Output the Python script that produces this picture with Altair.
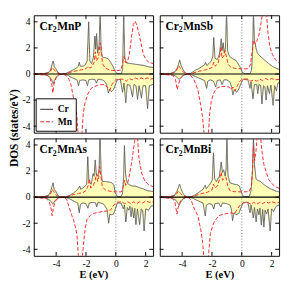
import altair as alt
import pandas as pd

# ---------------- data (E in eV, DOS in states/eV) ----------------
CR2MNP_CR_UP = [(-5.5,0.02),(-4.8,0.04),(-4.5,0.12),(-4.38,0.3),(-4.28,0.7),(-4.2,1.0),(-4.12,0.55),(-4.02,0.4),(-3.9,0.15),(-3.75,0.03),(-3.4,0.02),(-3.25,0.1),(-3.05,0.2),(-2.85,0.32),(-2.65,0.45),(-2.52,0.6),(-2.45,0.9),(-2.38,0.6),(-2.2,0.6),(-2.05,0.7),(-1.92,1.0),(-1.82,4.0),(-1.74,1.0),(-1.62,0.8),(-1.5,1.3),(-1.4,2.9),(-1.35,1.9),(-1.29,3.1),(-1.22,1.6),(-1.12,2.2),(-1.05,4.7),(-0.98,1.7),(-0.9,1.3),(-0.7,1.25),(-0.5,1.15),(-0.35,0.9),(-0.2,0.6),(-0.05,0.2),(0.1,0.04),(0.38,0.04),(0.46,0.4),(0.53,4.7),(0.6,1.3),(0.7,0.85),(1.0,0.8),(1.3,0.75),(1.6,0.7),(1.9,0.65),(2.2,0.55),(2.5,0.5)]
CR2MNP_CR_DN = [(-5.5,-0.02),(-4.7,-0.06),(-4.45,-0.2),(-4.3,-0.45),(-4.2,-0.75),(-4.12,-0.5),(-3.98,-0.2),(-3.8,-0.05),(-3.4,-0.02),(-3.2,-0.1),(-3.0,-0.25),(-2.8,-0.35),(-2.6,-0.45),(-2.5,-0.9),(-2.42,-0.5),(-2.2,-0.45),(-2.0,-0.5),(-1.9,-0.9),(-1.82,-0.45),(-1.6,-0.4),(-1.4,-0.42),(-1.3,-0.7),(-1.2,-0.4),(-1.0,-0.42),(-0.8,-0.5),(-0.62,-0.8),(-0.5,-1.45),(-0.42,-1.2),(-0.3,-1.35),(-0.15,-1.2),(-0.02,-0.8),(0.1,-0.45),(0.3,-0.4),(0.45,-1.4),(0.55,-0.7),(0.67,-2.2),(0.77,-0.8),(0.95,-0.85),(1.12,-1.75),(1.22,-0.8),(1.35,-0.9),(1.46,-1.95),(1.56,-0.9),(1.72,-1.85),(1.82,-0.9),(2.0,-0.9),(2.13,-2.65),(2.25,-0.9),(2.5,-0.8)]
CR2MNP_MN_UP = [(-5.5,0.02),(-4.6,0.05),(-4.38,0.2),(-4.25,0.5),(-4.15,0.35),(-4.0,0.15),(-3.8,0.03),(-3.45,0.01),(-3.25,0.06),(-3.0,0.15),(-2.6,0.25),(-2.3,0.32),(-2.0,0.4),(-1.85,0.6),(-1.75,0.45),(-1.6,0.55),(-1.45,0.9),(-1.37,1.7),(-1.3,1.0),(-1.15,1.3),(-1.05,2.4),(-0.97,1.9),(-0.9,0.8),(-0.7,0.45),(-0.4,0.3),(0.0,0.25),(0.35,0.3),(0.47,0.9),(0.55,1.35),(0.63,0.9),(0.78,0.9),(0.92,1.6),(1.05,2.8),(1.18,3.8),(1.3,4.05),(1.42,3.7),(1.55,3.1),(1.7,2.3),(1.85,1.5),(2.0,1.15),(2.2,0.9),(2.5,0.8)]
CR2MNP_MN_DN = [(-5.5,-0.02),(-4.6,-0.08),(-4.4,-0.35),(-4.28,-0.9),(-4.22,-1.45),(-4.15,-0.8),(-4.0,-0.3),(-3.8,-0.05),(-3.5,-0.02),(-3.3,-0.15),(-3.15,-0.4),(-3.0,-0.85),(-2.86,-1.7),(-2.72,-2.4),(-2.62,-3.1),(-2.52,-4.7),(-2.28,-4.7),(-2.18,-3.0),(-2.08,-2.3),(-1.9,-1.6),(-1.75,-1.25),(-1.6,-1.05),(-1.2,-0.85),(-0.8,-0.8),(-0.56,-1.0),(-0.4,-1.25),(-0.25,-0.8),(-0.1,-0.55),(0.0,-0.45),(0.3,-0.4),(0.5,-0.4),(0.7,-0.55),(0.9,-0.35),(1.1,-0.45),(1.3,-0.3),(1.5,-0.4),(1.7,-0.3),(1.9,-0.4),(2.1,-0.3),(2.3,-0.4),(2.5,-0.35)]

CR2MNSB_CR_UP = [(-5.5,0.02),(-4.8,0.04),(-4.5,0.15),(-4.35,0.4),(-4.25,0.7),(-4.17,1.08),(-4.08,0.7),(-3.95,0.35),(-3.8,0.1),(-3.65,0.02),(-3.45,0.03),(-3.3,0.15),(-3.1,0.3),(-2.9,0.4),(-2.7,0.55),(-2.5,0.7),(-2.43,0.9),(-2.35,0.65),(-2.2,0.8),(-2.05,1.0),(-1.95,1.3),(-1.88,2.8),(-1.8,1.2),(-1.65,1.1),(-1.5,1.5),(-1.38,2.7),(-1.32,1.8),(-1.25,2.4),(-1.18,1.6),(-1.1,2.0),(-1.02,4.7),(-0.95,1.8),(-0.85,1.4),(-0.6,1.15),(-0.4,1.05),(-0.25,0.8),(-0.1,0.5),(0.05,0.1),(0.2,0.03),(0.55,0.03),(0.65,0.3),(0.72,1.5),(0.78,4.7),(0.85,2.6),(0.95,2.0),(1.05,1.6),(1.2,1.4),(1.3,1.3),(1.5,1.1),(1.8,0.8),(2.1,0.55),(2.5,0.35)]
CR2MNSB_CR_DN = [(-5.5,-0.02),(-4.7,-0.05),(-4.45,-0.15),(-4.3,-0.3),(-4.2,-0.42),(-4.1,-0.3),(-3.95,-0.12),(-3.75,-0.03),(-3.45,-0.02),(-3.3,-0.1),(-3.1,-0.2),(-2.9,-0.3),(-2.7,-0.4),(-2.5,-0.5),(-2.36,-1.1),(-2.28,-0.55),(-2.1,-0.45),(-1.9,-0.55),(-1.75,-1.0),(-1.65,-0.5),(-1.45,-0.45),(-1.32,-0.8),(-1.2,-0.45),(-1.0,-0.45),(-0.8,-0.6),(-0.68,-1.0),(-0.6,-1.6),(-0.5,-1.2),(-0.35,-1.4),(-0.2,-1.15),(-0.05,-0.7),(0.1,-0.4),(0.4,-0.38),(0.55,-1.1),(0.62,-0.6),(0.75,-1.9),(0.85,-0.8),(1.0,-0.8),(1.07,-1.5),(1.15,-0.8),(1.27,-0.9),(1.35,-2.3),(1.45,-0.9),(1.55,-1.0),(1.63,-2.0),(1.72,-0.9),(1.85,-1.5),(1.95,-0.85),(2.1,-2.4),(2.2,-0.9),(2.32,-1.3),(2.42,-0.7),(2.5,-0.65)]
CR2MNSB_MN_UP = [(-5.5,0.02),(-4.6,0.06),(-4.4,0.25),(-4.22,0.62),(-4.1,0.4),(-3.9,0.12),(-3.7,0.02),(-3.45,0.02),(-3.2,0.1),(-2.9,0.2),(-2.6,0.28),(-2.3,0.35),(-2.0,0.5),(-1.88,0.9),(-1.78,0.6),(-1.6,0.8),(-1.46,1.5),(-1.4,2.1),(-1.33,1.2),(-1.2,1.4),(-1.12,1.8),(-1.03,1.3),(-0.9,0.7),(-0.7,0.5),(-0.4,0.42),(0.0,0.4),(0.4,0.4),(0.58,0.7),(0.7,1.8),(0.78,2.6),(0.88,2.3),(1.0,2.5),(1.15,3.0),(1.3,4.0),(1.4,4.7),(1.65,4.7),(1.75,3.2),(1.88,2.1),(2.05,1.5),(2.25,1.1),(2.5,0.85)]
CR2MNSB_MN_DN = [(-5.5,-0.02),(-4.65,-0.1),(-4.45,-0.4),(-4.33,-1.2),(-4.25,-0.8),(-4.1,-0.3),(-3.9,-0.08),(-3.65,-0.02),(-3.4,-0.15),(-3.2,-0.45),(-2.95,-1.2),(-2.75,-2.4),(-2.62,-3.4),(-2.52,-4.7),(-2.25,-4.7),(-2.15,-3.0),(-2.05,-2.1),(-1.9,-1.5),(-1.7,-1.1),(-1.4,-0.95),(-1.1,-0.95),(-0.85,-1.0),(-0.72,-1.2),(-0.6,-1.0),(-0.45,-1.3),(-0.3,-0.9),(-0.1,-0.5),(0.1,-0.4),(0.4,-0.45),(0.6,-0.55),(0.8,-0.45),(1.0,-0.55),(1.2,-0.4),(1.4,-0.5),(1.6,-0.35),(1.8,-0.45),(2.0,-0.35),(2.25,-0.45),(2.5,-0.4)]

CR2MNAS_CR_UP = [(-5.5,0.02),(-4.8,0.04),(-4.5,0.15),(-4.38,0.4),(-4.28,0.8),(-4.21,1.1),(-4.13,0.6),(-4.03,0.45),(-3.9,0.15),(-3.75,0.02),(-3.35,0.02),(-3.2,0.08),(-3.05,0.15),(-2.85,0.3),(-2.65,0.5),(-2.55,0.6),(-2.42,0.85),(-2.35,0.6),(-2.2,0.7),(-2.1,0.8),(-1.95,1.0),(-1.88,3.1),(-1.8,1.2),(-1.65,1.0),(-1.52,1.8),(-1.45,1.6),(-1.38,2.85),(-1.31,1.8),(-1.2,1.6),(-1.12,2.2),(-1.06,4.7),(-0.98,1.8),(-0.9,1.2),(-0.7,1.2),(-0.45,1.15),(-0.25,1.1),(-0.12,0.9),(-0.04,0.35),(0.1,0.04),(0.35,0.04),(0.45,0.3),(0.52,1.5),(0.58,3.95),(0.65,1.8),(0.75,1.1),(0.9,0.95),(1.1,0.85),(1.3,0.85),(1.52,0.75),(1.8,0.65),(2.1,0.5),(2.5,0.43)]
CR2MNAS_CR_DN = [(-5.5,-0.02),(-4.7,-0.05),(-4.45,-0.2),(-4.3,-0.4),(-4.22,-0.55),(-4.12,-0.35),(-3.95,-0.12),(-3.75,-0.02),(-3.35,-0.02),(-3.15,-0.1),(-2.95,-0.22),(-2.75,-0.35),(-2.55,-0.45),(-2.45,-1.2),(-2.37,-0.55),(-2.2,-0.45),(-2.0,-0.5),(-1.87,-0.85),(-1.78,-0.45),(-1.55,-0.4),(-1.35,-0.45),(-1.28,-0.75),(-1.2,-0.42),(-1.0,-0.45),(-0.8,-0.55),(-0.6,-0.9),(-0.48,-2.0),(-0.4,-1.3),(-0.3,-1.35),(-0.15,-1.3),(-0.03,-0.9),(0.1,-0.45),(0.35,-0.45),(0.5,-0.9),(0.58,-0.6),(0.67,-1.9),(0.77,-0.8),(0.87,-1.0),(0.95,-0.7),(1.02,-1.5),(1.1,-0.8),(1.2,-1.6),(1.27,-0.85),(1.35,-2.1),(1.45,-0.9),(1.6,-2.1),(1.7,-0.9),(1.8,-1.0),(1.9,-2.6),(2.0,-0.9),(2.2,-1.0),(2.35,-0.7),(2.5,-0.65)]
CR2MNAS_MN_UP = [(-5.5,0.02),(-4.6,0.05),(-4.4,0.2),(-4.25,0.6),(-4.12,0.35),(-3.95,0.1),(-3.75,0.02),(-3.35,0.02),(-3.1,0.1),(-2.8,0.2),(-2.5,0.28),(-2.2,0.35),(-2.0,0.5),(-1.85,0.9),(-1.77,1.4),(-1.68,0.7),(-1.5,0.9),(-1.38,1.3),(-1.3,1.8),(-1.22,1.2),(-1.15,1.5),(-1.08,2.35),(-1.0,1.6),(-0.9,0.8),(-0.7,0.55),(-0.4,0.45),(0.0,0.4),(0.38,0.4),(0.5,0.8),(0.58,1.3),(0.66,0.9),(0.8,1.1),(0.95,1.9),(1.1,2.95),(1.25,4.2),(1.33,4.7),(1.45,4.7),(1.55,3.0),(1.73,1.85),(1.94,1.25),(2.2,0.95),(2.5,0.8)]
CR2MNAS_MN_DN = [(-5.5,-0.02),(-4.65,-0.1),(-4.45,-0.4),(-4.32,-1.0),(-4.27,-1.42),(-4.18,-0.8),(-4.05,-0.3),(-3.85,-0.05),(-3.5,-0.02),(-3.3,-0.15),(-3.15,-0.7),(-2.95,-1.4),(-2.83,-1.77),(-2.68,-2.4),(-2.6,-2.95),(-2.5,-4.7),(-2.25,-4.7),(-2.15,-3.4),(-2.05,-2.4),(-1.92,-1.65),(-1.7,-1.4),(-1.5,-1.25),(-1.2,-1.18),(-0.9,-1.1),(-0.6,-1.06),(-0.45,-1.1),(-0.3,-0.9),(-0.1,-0.55),(0.1,-0.4),(0.35,-0.35),(0.6,-0.5),(0.8,-0.35),(1.0,-0.5),(1.2,-0.35),(1.4,-0.5),(1.6,-0.35),(1.8,-0.45),(2.0,-0.3),(2.25,-0.4),(2.5,-0.35)]

CR2MNBI_CR_UP = [(-5.5,0.02),(-4.8,0.05),(-4.5,0.15),(-4.35,0.45),(-4.25,0.75),(-4.17,1.0),(-4.08,0.65),(-3.95,0.3),(-3.8,0.08),(-3.6,0.02),(-3.4,0.03),(-3.25,0.1),(-3.1,0.2),(-2.9,0.35),(-2.75,0.48),(-2.6,0.6),(-2.45,0.9),(-2.38,0.65),(-2.2,0.9),(-2.08,1.1),(-1.98,1.3),(-1.9,3.4),(-1.82,1.4),(-1.7,1.2),(-1.5,1.6),(-1.38,2.7),(-1.3,1.9),(-1.22,2.1),(-1.12,1.6),(-1.05,2.2),(-1.0,4.7),(-0.93,1.7),(-0.8,1.1),(-0.55,1.0),(-0.3,0.95),(-0.15,0.85),(-0.05,0.4),(0.1,0.05),(0.5,0.05),(0.62,0.5),(0.72,2.0),(0.78,4.7),(0.85,2.5),(0.95,1.4),(1.05,1.3),(1.25,1.2),(1.5,0.95),(1.75,0.75),(2.0,0.6),(2.3,0.45),(2.5,0.4)]
CR2MNBI_CR_DN = [(-5.5,-0.02),(-4.7,-0.06),(-4.45,-0.2),(-4.3,-0.45),(-4.2,-0.62),(-4.1,-0.4),(-3.95,-0.15),(-3.75,-0.03),(-3.45,-0.02),(-3.25,-0.1),(-3.05,-0.22),(-2.85,-0.32),(-2.6,-0.45),(-2.45,-1.45),(-2.37,-0.6),(-2.2,-0.5),(-2.0,-0.55),(-1.88,-0.9),(-1.8,-0.5),(-1.55,-0.45),(-1.4,-0.75),(-1.3,-0.45),(-1.0,-0.5),(-0.8,-0.6),(-0.7,-0.9),(-0.62,-1.8),(-0.52,-1.2),(-0.38,-1.35),(-0.2,-1.25),(-0.05,-0.8),(0.1,-0.4),(0.4,-0.4),(0.55,-1.2),(0.62,-0.6),(0.77,-1.6),(0.85,-0.8),(0.96,-1.9),(1.05,-0.9),(1.15,-1.35),(1.22,-0.85),(1.31,-2.15),(1.4,-0.95),(1.48,-2.3),(1.56,-1.0),(1.66,-1.3),(1.76,-0.9),(1.9,-2.6),(2.0,-0.9),(2.12,-1.1),(2.3,-0.7),(2.5,-0.6)]
CR2MNBI_MN_UP = [(-5.5,0.02),(-4.6,0.06),(-4.4,0.2),(-4.25,0.47),(-4.12,0.3),(-3.95,0.1),(-3.7,0.02),(-3.4,0.02),(-3.2,0.1),(-2.9,0.2),(-2.6,0.3),(-2.3,0.38),(-2.0,0.55),(-1.9,1.0),(-1.8,0.7),(-1.6,0.9),(-1.45,1.6),(-1.38,1.9),(-1.3,1.3),(-1.18,1.4),(-1.05,1.5),(-0.95,0.9),(-0.8,0.5),(-0.5,0.42),(0.0,0.4),(0.5,0.42),(0.65,0.9),(0.72,2.2),(0.78,3.9),(0.86,2.8),(0.95,3.5),(1.03,4.7),(1.25,4.7),(1.35,3.5),(1.48,2.5),(1.62,2.0),(1.8,1.35),(2.0,1.05),(2.25,0.8),(2.5,0.68)]
CR2MNBI_MN_DN = [(-5.5,-0.02),(-4.65,-0.1),(-4.48,-0.4),(-4.35,-1.3),(-4.27,-0.8),(-4.12,-0.3),(-3.9,-0.06),(-3.6,-0.02),(-3.4,-0.2),(-3.26,-0.7),(-2.95,-1.42),(-2.75,-2.5),(-2.62,-3.5),(-2.55,-4.7),(-2.25,-4.7),(-2.1,-2.7),(-1.85,-1.9),(-1.55,-1.42),(-1.2,-1.3),(-1.0,-1.25),(-0.7,-1.2),(-0.5,-1.3),(-0.3,-0.9),(-0.1,-0.6),(0.1,-0.45),(0.4,-0.4),(0.6,-0.55),(0.8,-0.4),(1.0,-0.55),(1.2,-0.4),(1.4,-0.5),(1.6,-0.35),(1.8,-0.45),(2.0,-0.35),(2.25,-0.45),(2.5,-0.4)]

PANEL_NAMES = [("Cr", "2", "MnP"), ("Cr", "2", "MnSb"), ("Cr", "2", "MnAs"), ("Cr", "2", "MnBi")]
X_TICKS = [-4, -2, 0, 2]
Y_TICKS = [-4, -2, 0, 2, 4]
SPECIES = ["Cr", "Mn"]

# ---------------- styling ----------------
W, H = 125, 123
FONT = "Liberation Serif"
CR_COL = "#5a5a5a"
MN_COL = "#ff2a2a"
FILL = "#ffffb0"
LABEL_EXPR = "datum.value < 0 ? '-' + (-datum.value) : '' + datum.value"

xs = alt.Scale(domain=[-5.5, 2.5], nice=False, zero=False)
ys = alt.Scale(domain=[-4.5, 4.5], nice=False, zero=False)


def make_panel(name, series, show_x, show_y, legend):
    rows = []
    for sp, spin, pts in series:
        for e, v in pts:
            rows.append({"E": e, "v": v, "sp": sp, "spin": spin})
    df = pd.DataFrame(rows)

    xaxis = alt.Axis(values=X_TICKS, ticks=False, domain=False, grid=False,
                     labelFont=FONT, labelFontSize=10, labelColor="black",
                     labelPadding=3, labelExpr=LABEL_EXPR, title="E (eV)",
                     titleFont=FONT, titleFontSize=11, titleFontWeight="bold",
                     titleColor="black", titlePadding=1) if show_x else None
    yaxis = alt.Axis(values=Y_TICKS, ticks=False, domain=False, grid=False,
                     labelFont=FONT, labelFontSize=10, labelColor="black",
                     labelPadding=4, labelExpr=LABEL_EXPR, title=None) if show_y else None

    X = lambda f: alt.X(f, scale=xs, axis=xaxis)
    Y = lambda f: alt.Y(f, scale=ys, axis=yaxis)

    base = alt.Chart(df)
    area = base.transform_filter(alt.datum.sp == "Cr").mark_area(
        color=FILL, opacity=0.9, clip=True
    ).encode(x=X("E:Q"), y=Y("v:Q"), y2=alt.datum(0), detail="spin:N")

    if legend:
        lg = alt.Legend(title=None, orient="bottom-left", offset=2, padding=4,
                        strokeColor="black", fillColor="white", cornerRadius=0,
                        symbolType="stroke", symbolSize=180, symbolStrokeWidth=1.2,
                        labelFont=FONT, labelFontWeight="bold", labelFontSize=10,
                        labelOffset=4, rowPadding=0)
        lgd = lg
    else:
        lg = None
        lgd = None
    lines = base.mark_line(strokeWidth=1, clip=True).encode(
        x=X("E:Q"), y=Y("v:Q"),
        color=alt.Color("sp:N", scale=alt.Scale(domain=SPECIES, range=[CR_COL, MN_COL]), legend=lg),
        strokeDash=alt.StrokeDash("sp:N", scale=alt.Scale(domain=SPECIES, range=[[1, 0], [4, 2]]), legend=lgd),
        detail="spin:N",
    )

    zero = alt.Chart(pd.DataFrame({"z": [0]}))
    hline = zero.mark_rule(color="black", strokeWidth=1.2).encode(y=Y("z:Q"))
    vline = zero.mark_rule(color="#777777", strokeDash=[1, 2], strokeWidth=1).encode(x=X("z:Q"))

    xt = alt.Chart(pd.DataFrame({"t": X_TICKS}))
    yt = alt.Chart(pd.DataFrame({"t": Y_TICKS}))
    tb = xt.mark_rule(color="black").encode(x=X("t:Q"), y=alt.value(H), y2=alt.value(H - 4))
    tt = xt.mark_rule(color="black").encode(x=X("t:Q"), y=alt.value(0), y2=alt.value(4))
    tl = yt.mark_rule(color="black").encode(y=Y("t:Q"), x=alt.value(0), x2=alt.value(4))
    tr = yt.mark_rule(color="black").encode(y=Y("t:Q"), x=alt.value(W), x2=alt.value(W - 4))

    one = alt.Chart(pd.DataFrame({"a": [0]}))
    t1 = one.mark_text(text=name[0], font=FONT, fontSize=12, fontWeight="bold", align="left",
                       baseline="alphabetic", color="black").encode(x=alt.value(6), y=alt.value(15))
    t2 = one.mark_text(text=name[1], font=FONT, fontSize=8, fontWeight="bold", align="left",
                       baseline="alphabetic", color="black").encode(x=alt.value(20), y=alt.value(18))
    t3 = one.mark_text(text=name[2], font=FONT, fontSize=12, fontWeight="bold", align="left",
                       baseline="alphabetic", color="black").encode(x=alt.value(24.5), y=alt.value(15))

    return alt.layer(area, vline, lines, hline, tb, tt, tl, tr, t1, t2, t3).properties(width=W, height=H)


p1 = make_panel(PANEL_NAMES[0], [("Cr", "up", CR2MNP_CR_UP), ("Cr", "dn", CR2MNP_CR_DN),
                                  ("Mn", "up", CR2MNP_MN_UP), ("Mn", "dn", CR2MNP_MN_DN)], False, True, True)
p2 = make_panel(PANEL_NAMES[1], [("Cr", "up", CR2MNSB_CR_UP), ("Cr", "dn", CR2MNSB_CR_DN),
                                  ("Mn", "up", CR2MNSB_MN_UP), ("Mn", "dn", CR2MNSB_MN_DN)], False, False, False)
p3 = make_panel(PANEL_NAMES[2], [("Cr", "up", CR2MNAS_CR_UP), ("Cr", "dn", CR2MNAS_CR_DN),
                                  ("Mn", "up", CR2MNAS_MN_UP), ("Mn", "dn", CR2MNAS_MN_DN)], True, True, False)
p4 = make_panel(PANEL_NAMES[3], [("Cr", "up", CR2MNBI_CR_UP), ("Cr", "dn", CR2MNBI_CR_DN),
                                  ("Mn", "up", CR2MNBI_MN_UP), ("Mn", "dn", CR2MNBI_MN_DN)], True, False, False)

chart = alt.concat(p1, p2, p3, p4, columns=2, spacing={"row": 4, "column": 3}).resolve_scale(
    color="independent", strokeDash="independent"
).resolve_legend(color="independent", strokeDash="independent").properties(
    padding=0,
    title=alt.TitleParams("DOS (states/eV)", orient="left", anchor="middle", font=FONT,
                          fontSize=12, fontWeight="bold", color="black", offset=1, dx=20),
).configure_view(stroke="black", strokeWidth=1)

chart.save("out.html", embed_options={"renderer": "svg", "actions": False})
